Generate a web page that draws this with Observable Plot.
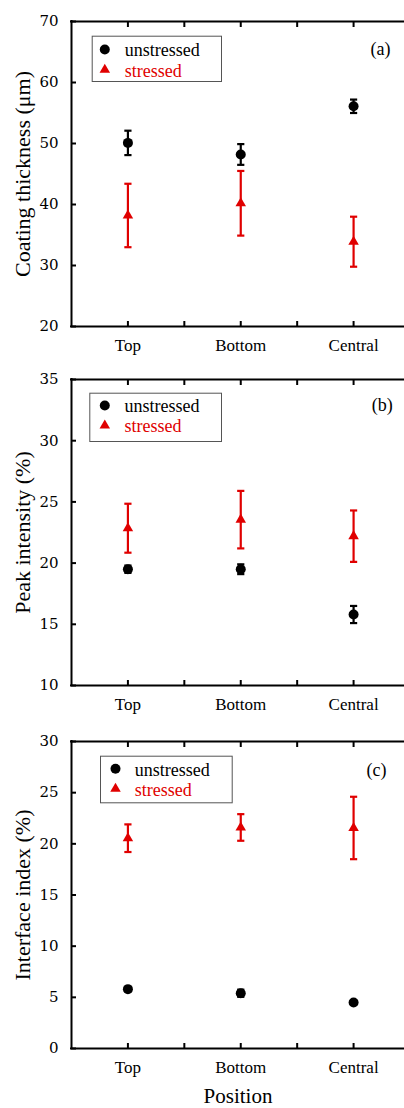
<!DOCTYPE html>
<html>
<head>
<meta charset="utf-8">
<script src="https://cdn.jsdelivr.net/npm/d3@7"></script>
<script src="https://cdn.jsdelivr.net/npm/@observablehq/plot@0.6"></script>
<style>
  html, body { margin: 0; padding: 0; background: #fff; overflow: hidden; }
  #wrap { position: relative; width: 404px; height: 1108px; overflow: hidden; }
  #wrap > div { position: absolute; left: 0; width: 404px; }
  #wrap svg { max-width: none !important; }
</style>
</head>
<body>
<div id="wrap"></div>
<script>
// ---- data ----
const positions = ["Top", "Bottom", "Central"];
const seriesNames = ["unstressed", "stressed"];

const thicknessUnstressed = [50.1, 48.2, 56.1];
const thicknessUnstressedErr = [2.0, 1.7, 1.1];
const thicknessStressed = [38.2, 40.2, 33.9];
const thicknessStressedErr = [5.2, 5.3, 4.1];

const peakUnstressed = [19.5, 19.5, 15.8];
const peakUnstressedErr = [0.3, 0.4, 0.7];
const peakStressed = [22.85, 23.55, 22.2];
const peakStressedErr = [2.0, 2.35, 2.1];

const interfaceUnstressed = [5.8, 5.4, 4.5];
const interfaceUnstressedErr = [0.2, 0.35, 0.2];
const interfaceStressed = [20.55, 21.6, 21.55];
const interfaceStressedErr = [1.35, 1.3, 3.05];

const yTicksA = [20, 30, 40, 50, 60, 70];
const yTicksB = [10, 15, 20, 25, 30, 35];
const yTicksC = [0, 5, 10, 15, 20, 25, 30];

const RED = "#e00000";
const BLACK = "#000";
const SERIF = "Liberation Serif";

function rows(vals, errs, series) {
  return vals.map((v, i) => ({i, pos: positions[i], series, v, lo: v - errs[i], hi: v + errs[i]}));
}

const cap = {
  draw(ctx, size) {
    const h = Math.sqrt(size / Math.PI);
    ctx.moveTo(-h, 0);
    ctx.lineTo(h, 0);
  }
};

function panel(cfg) {
  const un = rows(cfg.un, cfg.unErr, seriesNames[0]);
  const st = rows(cfg.st, cfg.stErr, seriesNames[1]);
  const L = cfg.legend;
  const xDomain = [-0.5, 2.5];
  const marks = [
    // frame lines (top, bottom, left); the right side lies beyond the 404px window
    Plot.ruleY(cfg.yDomain, {stroke: "#000", strokeWidth: 2, strokeLinecap: "square"}),
    Plot.ruleX([xDomain[0]], {stroke: "#000", strokeWidth: 2, strokeLinecap: "square"}),
    // axes
    Plot.axisY({anchor: "left", ticks: cfg.yTicks, tickSize: 0, tickPadding: 13,
      fontFamily: "DejaVu Serif", fontSize: 15, label: null}),
    Plot.axisY({anchor: "left", ticks: cfg.yTicks, tickSize: -5, tickFormat: () => "", strokeWidth: 2, label: null}),
    Plot.axisX({anchor: "bottom", ticks: [0, 1, 2], tickSize: 0, tickPadding: 12,
      tickFormat: (d) => positions[d], fontFamily: SERIF, fontSize: 17, label: null}),
    Plot.axisX({anchor: "bottom", ticks: [0, 0.5, 1, 1.5, 2], tickSize: -5, tickFormat: () => "", strokeWidth: 2, label: null}),
    Plot.axisX({anchor: "top", ticks: [0, 0.5, 1, 1.5, 2], tickSize: -5, tickFormat: () => "", strokeWidth: 2, label: null}),
    // y label
    Plot.text([cfg.ylabel], {text: (d) => d, frameAnchor: "left", rotate: -90, dx: -49,
      textAnchor: "middle", lineAnchor: "middle", fontFamily: SERIF, fontSize: 22}),
    // error bars
    Plot.ruleX(st, {x: "i", y1: "lo", y2: "hi", stroke: RED, strokeWidth: 2.2}),
    Plot.dot(st, {x: "i", y: "lo", symbol: cap, r: 3.6, fill: "none", stroke: RED, strokeWidth: 2.2}),
    Plot.dot(st, {x: "i", y: "hi", symbol: cap, r: 3.6, fill: "none", stroke: RED, strokeWidth: 2.2}),
    Plot.dot(st, {x: "i", y: "v", symbol: "triangle", r: 3.9, fill: RED, stroke: "none"}),
    Plot.ruleX(un, {x: "i", y1: "lo", y2: "hi", stroke: BLACK, strokeWidth: 2.2}),
    Plot.dot(un, {x: "i", y: "lo", symbol: cap, r: 3.6, fill: "none", stroke: BLACK, strokeWidth: 2.2}),
    Plot.dot(un, {x: "i", y: "hi", symbol: cap, r: 3.6, fill: "none", stroke: BLACK, strokeWidth: 2.2}),
    Plot.dot(un, {x: "i", y: "v", symbol: "circle", r: 5, fill: BLACK, stroke: "none"}),
    // legend
    Plot.frame({insetLeft: L.l, insetTop: L.t, insetRight: L.r, insetBottom: L.b, stroke: "#555", strokeWidth: 1}),
    Plot.dot([seriesNames[0]], {frameAnchor: "top-left", dx: L.mx, dy: L.y1, symbol: "circle", r: 5, fill: BLACK}),
    Plot.dot([seriesNames[1]], {frameAnchor: "top-left", dx: L.mx, dy: L.y2, symbol: "triangle", r: 3.9, fill: RED}),
    Plot.text([seriesNames[0]], {text: (d) => d, frameAnchor: "top-left", dx: L.tx, dy: L.y1 + 1,
      textAnchor: "start", lineAnchor: "middle", fontFamily: SERIF, fontSize: 18, fill: BLACK}),
    Plot.text([seriesNames[1]], {text: (d) => d, frameAnchor: "top-left", dx: L.tx, dy: L.y2 + 1,
      textAnchor: "start", lineAnchor: "middle", fontFamily: SERIF, fontSize: 18, fill: RED}),
    Plot.text([cfg.letter], {text: (d) => d, frameAnchor: "top-right", dx: cfg.letterDx, dy: cfg.letterDy,
      textAnchor: "middle", lineAnchor: "middle", fontFamily: SERIF, fontSize: 18})
  ];
  if (cfg.xlabel) {
    marks.push(Plot.text([cfg.xlabel], {text: (d) => d, frameAnchor: "bottom", dy: cfg.xlabelDy,
      textAnchor: "middle", lineAnchor: "middle", fontFamily: SERIF, fontSize: 21}));
  }
  return Plot.plot({
    width: 404,
    height: cfg.height,
    marginLeft: 71,
    marginRight: 0,
    marginTop: cfg.mt,
    marginBottom: cfg.mb,
    style: {fontFamily: SERIF, fontSize: "17px", color: "#000", background: "transparent", overflow: "visible", maxWidth: "none"},
    x: {type: "linear", domain: xDomain, range: [71, 409.5], axis: null},
    y: {domain: cfg.yDomain, axis: null},
    marks
  });
}

// the plot's right edge sits at 409.5, just beyond the 404px window
const panels = [
  {top: 0, height: 360, mt: 21, mb: 34, yDomain: [20, 70], yTicks: yTicksA,
   un: thicknessUnstressed, unErr: thicknessUnstressedErr, st: thicknessStressed, stErr: thicknessStressedErr,
   ylabel: "Coating thickness (μm)", letter: "(a)", letterDx: -24, letterDy: 27.5,
   legend: {l: 20.7, t: 14.7, r: 183, b: 245, mx: 33.3, tx: 53.3, y1: 28, y2: 48.3}},
  {top: 360, height: 360, mt: 19, mb: 35, yDomain: [10, 35], yTicks: yTicksB,
   un: peakUnstressed, unErr: peakUnstressedErr, st: peakStressed, stErr: peakStressedErr,
   ylabel: "Peak intensity (%)", letter: "(b)", letterDx: -22.3, letterDy: 26,
   legend: {l: 18.3, t: 13.7, r: 183, b: 244, mx: 33.3, tx: 53, y1: 26, y2: 46}},
  {top: 720, height: 388, mt: 21, mb: 60, yDomain: [0, 30], yTicks: yTicksC,
   un: interfaceUnstressed, unErr: interfaceUnstressedErr, st: interfaceStressed, stErr: interfaceStressedErr,
   ylabel: "Interface index (%)", letter: "(c)", letterDx: -28, letterDy: 29,
   xlabel: "Position", xlabelDy: 48,
   legend: {l: 29, t: 14.7, r: 172.3, b: 245.7, mx: 44, tx: 63.3, y1: 27.3, y2: 47.3}}
];

const wrap = document.getElementById("wrap");
for (const p of panels) {
  const d = document.createElement("div");
  d.style.top = p.top + "px";
  d.appendChild(panel(p));
  wrap.appendChild(d);
}
</script>
</body>
</html>
